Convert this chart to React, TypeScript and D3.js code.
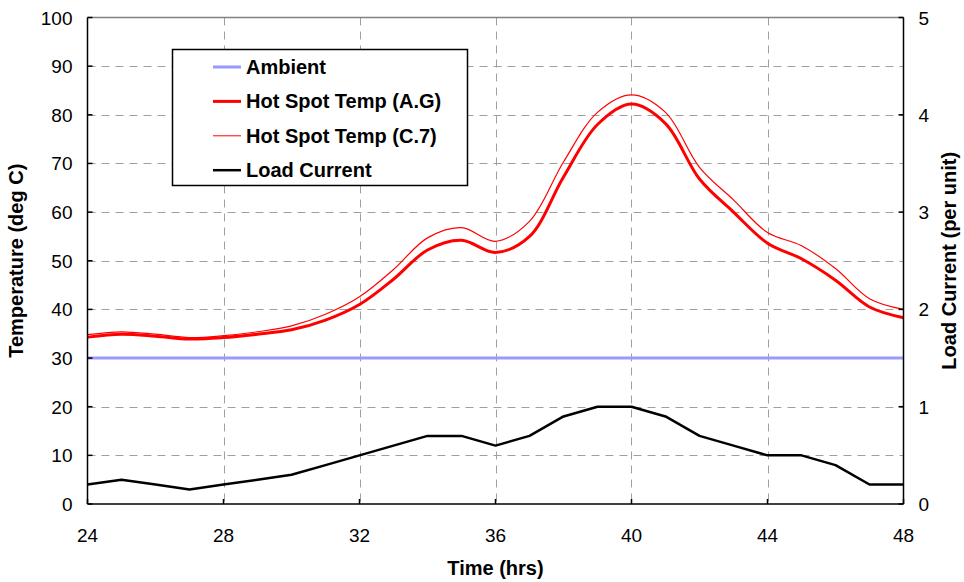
import React, { useEffect } from 'react';
import * as d3 from 'd3';

const hours = [24, 25, 26, 27, 28, 29, 30, 31, 32, 33, 34, 35, 36, 37, 38, 39, 40, 41, 42, 43, 44, 45, 46, 47, 48];
const ambient = [30, 30, 30, 30, 30, 30, 30, 30, 30, 30, 30, 30, 30, 30, 30, 30, 30, 30, 30, 30, 30, 30, 30, 30, 30];
const hotSpotAG = [34.3, 34.9, 34.5, 33.9, 34.2, 34.9, 35.8, 37.8, 41.0, 46.2, 52.2, 54.2, 51.7, 55.0, 67.2, 78.0, 82.2, 78.2, 66.8, 60.0, 53.6, 50.4, 46.0, 40.5, 38.3];
const hotSpotC7 = [34.8, 35.4, 34.9, 34.2, 34.6, 35.4, 36.6, 39.0, 42.6, 48.2, 54.7, 56.8, 54.0, 58.1, 70.3, 80.5, 84.1, 80.5, 69.2, 62.5, 55.8, 53.1, 48.4, 42.2, 40.0];
const loadCurrent = [0.2, 0.25, 0.2, 0.15, 0.2, 0.25, 0.3, 0.4, 0.5, 0.6, 0.7, 0.7, 0.6, 0.7, 0.9, 1.0, 1.0, 0.9, 0.7, 0.6, 0.5, 0.5, 0.4, 0.2, 0.2];

const xTicks = [24, 28, 32, 36, 40, 44, 48];
const tempTicks = [0, 10, 20, 30, 40, 50, 60, 70, 80, 90, 100];
const loadTicks = [0, 1, 2, 3, 4, 5];

const legendItems = [
  { label: 'Ambient', color: '#9999ff', width: 3 },
  { label: 'Hot Spot Temp (A.G)', color: '#ff0000', width: 3 },
  { label: 'Hot Spot Temp (C.7)', color: '#ff0000', width: 1 },
  { label: 'Load Current', color: '#000000', width: 2.5 },
];

const W = 964;
const H = 582;
const margin = { top: 17.5, right: 60.5, bottom: 78, left: 87.5 };

export default function App() {
  useEffect(() => {
    document.body.style.margin = '0';
  }, []);

  const x = d3.scaleLinear().domain([24, 48]).range([margin.left, W - margin.right]);
  const y = d3.scaleLinear().domain([0, 100]).range([H - margin.bottom, margin.top]);
  const y2 = d3.scaleLinear().domain([0, 5]).range([H - margin.bottom, margin.top]);

  const smooth = d3.line<number>()
    .x((_, i) => x(hours[i]))
    .y(d => y(d))
    .curve(d3.curveCatmullRom.alpha(0.5));
  const straight = d3.line<number>()
    .x((_, i) => x(hours[i]))
    .y(d => y(d));
  const loadLine = d3.line<number>()
    .x((_, i) => x(hours[i]))
    .y(d => y2(d));

  const [x0, x1] = x.range();
  const [yb, yt] = y.range();
  const font = 'Liberation Sans, Arial, sans-serif';

  return (
    <svg width={W} height={H} style={{ display: 'block', background: '#fff' }} fontFamily={font}>
      {/* grid */}
      <g stroke="#a0a0a0" strokeWidth={1} strokeDasharray="8,6">
        {tempTicks.slice(1, -1).map(t => (
          <line key={'h' + t} x1={x0} x2={x1} y1={Math.round(y(t)) + 0.5} y2={Math.round(y(t)) + 0.5} />
        ))}
        {xTicks.slice(1, -1).map(t => (
          <line key={'v' + t} x1={Math.round(x(t)) + 0.5} x2={Math.round(x(t)) + 0.5} y1={yt} y2={yb} />
        ))}
      </g>
      <line x1={x0} x2={x1} y1={yt} y2={yt} stroke="#808080" strokeWidth={1.5} />

      {/* series */}
      <path d={straight(ambient) || ''} fill="none" stroke="#9999ff" strokeWidth={3} />
      <path d={smooth(hotSpotC7) || ''} fill="none" stroke="#ff0000" strokeWidth={1.2} />
      <path d={smooth(hotSpotAG) || ''} fill="none" stroke="#ff0000" strokeWidth={3} />
      <path d={loadLine(loadCurrent) || ''} fill="none" stroke="#000" strokeWidth={2.5} strokeLinejoin="round" />

      {/* axes */}
      <g stroke="#000" strokeWidth={1.5}>
        <line x1={x0} x2={x0} y1={yt} y2={yb} />
        <line x1={x1} x2={x1} y1={yt} y2={yb} />
        <line x1={x0} x2={x1} y1={yb} y2={yb} />
        {tempTicks.map(t => (
          <line key={'lt' + t} x1={x0} x2={x0 + 5} y1={y(t)} y2={y(t)} />
        ))}
        {loadTicks.map(t => (
          <line key={'rt' + t} x1={x1 - 5} x2={x1} y1={y2(t)} y2={y2(t)} />
        ))}
        {xTicks.map(t => (
          <line key={'bt' + t} x1={x(t)} x2={x(t)} y1={yb - 5} y2={yb} />
        ))}
      </g>

      <g fontSize={19} fill="#000">
        {tempTicks.map(t => (
          <text key={'ll' + t} x={x0 - 15} y={y(t) + 7} textAnchor="end">{t}</text>
        ))}
        {loadTicks.map(t => (
          <text key={'rl' + t} x={x1 + 15} y={y2(t) + 7} textAnchor="start">{t}</text>
        ))}
        {xTicks.map(t => (
          <text key={'xl' + t} x={x(t)} y={yb + 38} textAnchor="middle">{t}</text>
        ))}
      </g>

      <g fontSize={20} fontWeight="bold" fill="#000">
        <text x={(x0 + x1) / 2} y={575} textAnchor="middle">Time (hrs)</text>
        <text transform={`translate(23,${(yt + yb) / 2}) rotate(-90)`} textAnchor="middle">Temperature (deg C)</text>
        <text transform={`translate(956,${(yt + yb) / 2}) rotate(-90)`} textAnchor="middle">Load Current (per unit)</text>
      </g>

      {/* legend */}
      <g>
        <rect x={172.5} y={49.5} width={295} height={136} fill="#fff" stroke="#000" strokeWidth={1.5} />
        {legendItems.map((item, i) => {
          const ly = 67 + i * 34.4;
          return (
            <g key={item.label}>
              <line x1={213} x2={241} y1={ly} y2={ly} stroke={item.color} strokeWidth={item.width} />
              <text x={246} y={ly + 7} fontSize={20} fontWeight="bold">{item.label}</text>
            </g>
          );
        })}
      </g>
    </svg>
  );
}
